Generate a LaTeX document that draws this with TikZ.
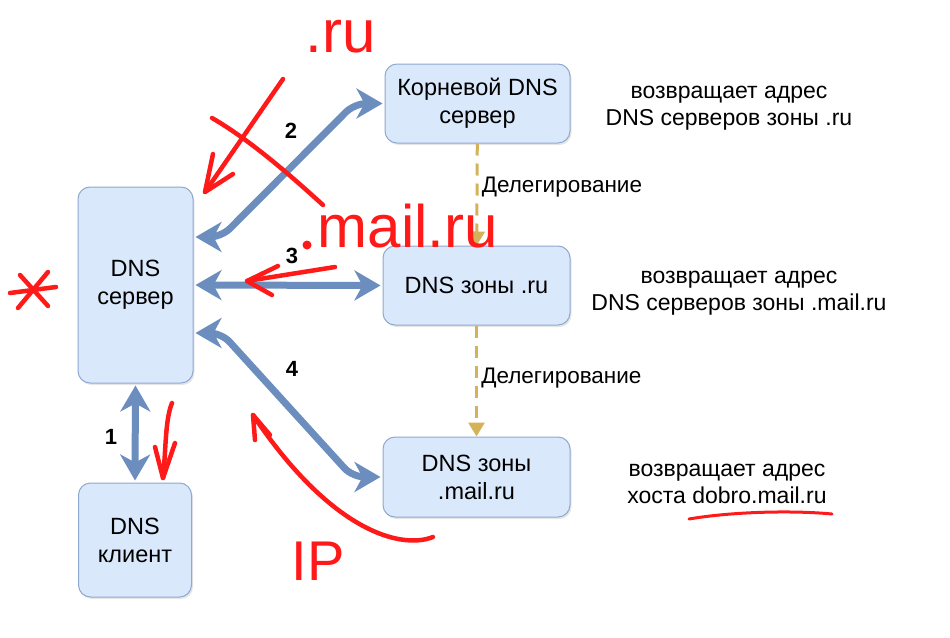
\documentclass[tikz,border=0pt]{standalone}
\usepackage{fontspec}
\setmainfont{Liberation Sans}
\usetikzlibrary{arrows.meta,shadows}
\definecolor{boxfill}{HTML}{DAE8FC}
\definecolor{boxline}{HTML}{8FA9D0}
\definecolor{linkblue}{HTML}{6C8EBF}
\definecolor{delegcol}{HTML}{D4B25A}
\definecolor{inkred}{HTML}{FF1A1A}

\begin{document}
\begin{tikzpicture}[x=1pt,y=-1pt]
      \tikzstyle{srv} = [draw=boxline, fill=boxfill, line width=1pt, rounded corners=12pt, align=center,
                         font=\fontsize{23.5}{28}\selectfont,
                         drop shadow={opacity=0.2, shadow xshift=1.5pt, shadow yshift=-2pt}]
      \tikzstyle{link} = [draw=linkblue, line width=7pt, rounded corners=12pt, shorten <=2pt, shorten >=2pt,
                          {Stealth[length=26pt, width=30pt, inset=8pt]}-{Stealth[length=26pt, width=30pt, inset=8pt]}]
      \tikzstyle{deleg} = [draw=delegcol, line width=3pt, dash pattern=on 12pt off 8pt,
                           -{Triangle[length=14pt, width=16pt]}]
      \tikzstyle{num} = [font=\fontsize{22}{26}\selectfont\bfseries]
      \tikzstyle{note} = [align=center, font=\fontsize{23}{27}\selectfont]
      \tikzstyle{ink} = [draw=inkred, line width=4.5pt, line cap=round, line join=round]
      \tikzstyle{inktext} = [text=inkred, font=\fontsize{60}{60}\selectfont]

      \useasboundingbox (0,0) rectangle (950,637);

      % boxes
      \node[srv, minimum width=115pt, minimum height=196pt] (server) at (135.5,285) {DNS\\сервер};
      \node[srv, minimum width=113pt, minimum height=114pt] (client) at (135,540) {DNS\\клиент};
      \node[srv, minimum width=185pt, minimum height=79pt] (root) at (477.5,103.5) {Корневой DNS\\сервер};
      \node[srv, minimum width=187pt, minimum height=79pt] (zoneru) at (476.5,285.5) {DNS зоны .ru};
      \node[srv, minimum width=187pt, minimum height=80pt] (zonemail) at (476.5,477) {DNS зоны\\.mail.ru};

      % notes on the right
      \node[note] (noteroot) at (729,108) {возвращает адрес\\DNS серверов зоны .ru};
      \node[note] (noteru) at (739,293) {возвращает адрес\\DNS серверов зоны .mail.ru};
      \node[note] (notemail) at (727,484) {возвращает адрес\\хоста dobro.mail.ru};

      % queries
      \draw[link] (server.south) to (client.north);
      \draw[link] ([yshift=48pt]server.east) -- ++(28,0) -- ([xshift=-30pt]root.west) -- (root.west);
      \draw[link] (server.east) to (zoneru.west);
      \draw[link] ([yshift=-48pt]server.east) -- ++(28,0) -- ([xshift=-30pt]zonemail.west) -- (zonemail.west);

      \node[num] (n1) at (111,437) {1};
      \node[num] (n2) at (291,131) {2};
      \node[num] (n3) at (292,256) {3};
      \node[num] (n4) at (292,369) {4};

      % delegation
      \draw[deleg] (root) to node[right, pos=0.43, font=\fontsize{22.5}{26}\selectfont] {Делегирование} (zoneru);
      \draw[deleg] (zoneru) to node[right, pos=0.47, font=\fontsize{22.5}{26}\selectfont] {Делегирование} (zonemail);

      % hand notes
      \node[inktext] (inkru) at (341,37) {.ru};
      \node[inktext] (inkmail) at (408,226) {mail.ru};
      \node[inktext, font=\fontsize{56}{56}\selectfont] (inkip) at (318,561) {IP};
      \draw[ink] (283,79) -- (205,192);
      \draw[ink] (213,154) -- (205,192) -- (233,174);
      \draw[ink] (212,118) .. controls (250,140) and (290,175) .. (323,205);
      \fill[inkred] (307,245) circle (4.5);
      \draw[ink] (335,267) -- (247,281);
      \draw[ink] (278,266) -- (247,281) -- (272,295);
      \draw[ink] (20,275) -- (48,306);
      \draw[ink] (48,272) -- (18,308);
      \draw[ink] (10,293) -- (56,287);
      \draw[ink] (172,403) .. controls (165,420) and (166,450) .. (163,478);
      \draw[ink] (155,447) -- (163,478) -- (175,443);
      \draw[ink] (433,537) .. controls (400,550) and (330,530) .. (253,415);
      \draw[ink] (255,440) -- (253,415) -- (270,435);
      \draw[ink, line width=3pt] (689,519) .. controls (730,512) and (790,510) .. (832,514);
    \end{tikzpicture}
\end{document}
